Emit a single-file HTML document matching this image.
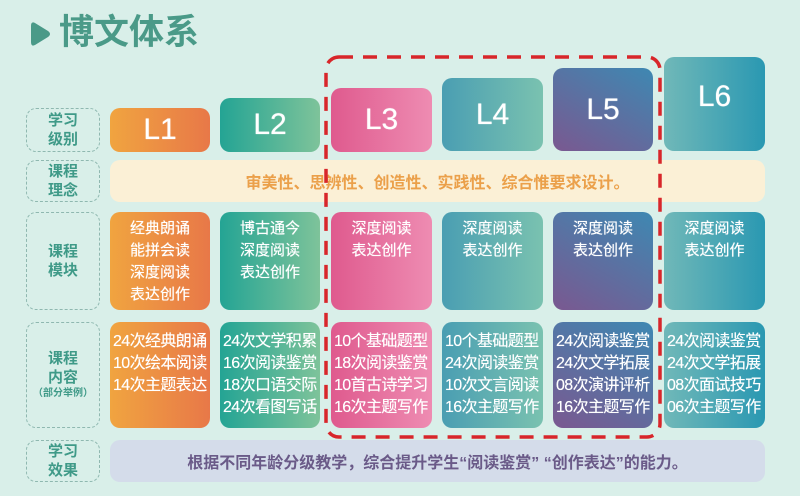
<!DOCTYPE html>
<html><head><meta charset="utf-8"><style>
*{margin:0;padding:0;box-sizing:border-box}
body{width:800px;height:496px;background:#d9efe9;position:relative;overflow:hidden;font-family:"Liberation Sans","Noto Sans CJK SC",sans-serif}
.a{position:absolute}
.lab{position:absolute;left:26px;width:74px;border:1.3px dashed #8fb8b0;border-radius:10px;color:#3f9a88;font-weight:bold;font-size:15px;line-height:19px;display:flex;flex-direction:column;align-items:center;justify-content:center;text-align:center}
.box{position:absolute;border-radius:10px;color:#fff;font-weight:bold}
.lv{display:flex;align-items:center;justify-content:center;font-size:30px;font-family:"Liberation Sans",sans-serif;font-weight:normal;text-shadow:0 0 0.8px #fff}
.mod{font-size:15px;line-height:22px;text-align:center;padding-top:6px;font-weight:normal;text-shadow:0 0 0.6px #fff}
.con{font-size:16px;line-height:22px;padding-top:9px;padding-left:3px;white-space:nowrap;letter-spacing:-0.6px;font-weight:normal;text-shadow:0 0 0.4px #fff}
.c1{left:110px;width:100px;background:linear-gradient(90deg,#f0a440,#e87848)}
.c2{left:220px;width:100px;background:linear-gradient(90deg,#24a494,#7ec39a)}
.c3{left:331px;width:101px;background:linear-gradient(90deg,#df5a8e,#ee8cb2)}
.c4{left:442px;width:101px;background:linear-gradient(90deg,#4a9eb2,#7ac2b0)}
.c5{left:553px;width:100px;background:linear-gradient(30deg,#7a5890,#3e88b2)}
.c6{left:664px;width:101px;background:linear-gradient(90deg,#70b8b8,#2a98b2)}
</style></head><body>
<svg class="a" style="left:30px;top:21px" width="22" height="26"><path d="M5 2 Q1 0 1 5 V21 Q1 26 5 24 L18 16 Q22 13 18 10 Z" fill="#4a9a88"/></svg>
<div class="a" style="left:59px;top:12px;font-size:35px;font-weight:bold;color:#4a9a88;line-height:42px">博文体系</div>

<div class="lab" style="top:108px;height:44px">学习<br>级别</div>
<div class="lab" style="top:160px;height:42px">课程<br>理念</div>
<div class="lab" style="top:212px;height:98px">课程<br>模块</div>
<div class="lab" style="top:322px;height:106px">课程<br>内容<span style="font-size:10px;line-height:14px">（部分举例）</span></div>
<div class="lab" style="top:440px;height:42px">学习<br>效果</div>

<div class="box lv c1" style="top:108px;height:44px">L1</div>
<div class="box lv c2" style="top:98px;height:54px">L2</div>
<div class="box lv c3" style="top:88px;height:64px">L3</div>
<div class="box lv c4" style="top:78px;height:73px">L4</div>
<div class="box lv c5" style="top:68px;height:83px">L5</div>
<div class="box lv c6" style="top:57px;height:94px;padding-bottom:14px">L6</div>

<div class="a" style="left:110px;top:160px;width:655px;height:42px;border-radius:10px;background:#fbf0d6;color:#eba04a;font-weight:bold;font-size:16px;display:flex;align-items:center;justify-content:center">审美性、思辨性、创造性、实践性、综合惟要求设计。</div>

<div class="box mod c1" style="top:212px;height:98px">经典朗诵<br>能拼会读<br>深度阅读<br>表达创作</div>
<div class="box mod c2" style="top:212px;height:98px">博古通今<br>深度阅读<br>表达创作</div>
<div class="box mod c3" style="top:212px;height:98px">深度阅读<br>表达创作</div>
<div class="box mod c4" style="top:212px;height:98px">深度阅读<br>表达创作</div>
<div class="box mod c5" style="top:212px;height:98px">深度阅读<br>表达创作</div>
<div class="box mod c6" style="top:212px;height:98px">深度阅读<br>表达创作</div>

<div class="box con c1" style="top:322px;height:106px">24次经典朗诵<br>10次绘本阅读<br>14次主题表达</div>
<div class="box con c2" style="top:322px;height:106px">24次文学积累<br>16次阅读鉴赏<br>18次口语交际<br>24次看图写话</div>
<div class="box con c3" style="top:322px;height:106px">10个基础题型<br>18次阅读鉴赏<br>10首古诗学习<br>16次主题写作</div>
<div class="box con c4" style="top:322px;height:106px">10个基础题型<br>24次阅读鉴赏<br>10次文言阅读<br>16次主题写作</div>
<div class="box con c5" style="top:322px;height:106px">24次阅读鉴赏<br>24次文学拓展<br>08次演讲评析<br>16次主题写作</div>
<div class="box con c6" style="top:322px;height:106px">24次阅读鉴赏<br>24次文学拓展<br>08次面试技巧<br>06次主题写作</div>

<div class="a" style="left:110px;top:440px;width:655px;height:42px;border-radius:10px;background:#d4dcea;color:#6a5a88;font-weight:bold;font-size:16px;display:flex;align-items:center;justify-content:center">根据不同年龄分级教学，综合提升学生“阅读鉴赏” “创作表达”的能力。</div>

<svg class="a" style="left:0;top:0" width="800" height="496"><rect x="326" y="57" width="334" height="380" rx="13" fill="none" stroke="#d8262a" stroke-width="3.5" stroke-dasharray="14 10"/></svg>
</body></html>
